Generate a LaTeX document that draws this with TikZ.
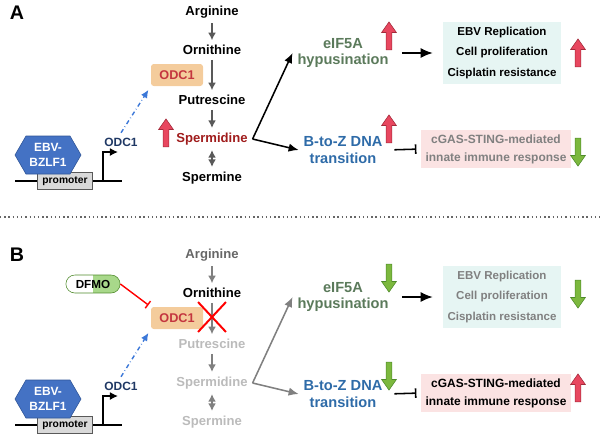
\documentclass[tikz,border=0pt]{standalone}
\usepackage{fontspec}
\setmainfont{Liberation Sans}
\usetikzlibrary{arrows.meta,shapes.geometric,shapes.arrows,shapes.misc,shapes.symbols,positioning}

\definecolor{hexblue}{HTML}{4472C4}
\definecolor{hexedge}{HTML}{2F5597}
\definecolor{navy}{HTML}{1F3864}
\definecolor{odcfill}{HTML}{F4CC9C}
\definecolor{odctext}{HTML}{C4363F}
\definecolor{spdred}{HTML}{A01C1C}
\definecolor{eifgreen}{HTML}{5B7A5B}
\definecolor{dnablue}{HTML}{2E6BA8}
\definecolor{upred}{HTML}{E8475F}
\definecolor{upedge}{HTML}{A32A3A}
\definecolor{dngreen}{HTML}{7CB83E}
\definecolor{dnedge}{HTML}{4E8A2A}
\definecolor{cyanbox}{HTML}{E6F5F3}
\definecolor{pinkbox}{HTML}{FBE3E3}
\definecolor{fade}{HTML}{BBBBBB}
\definecolor{pillgreen}{HTML}{A8D88A}
\definecolor{exprblue}{HTML}{3C78D8}

\begin{document}
\begin{tikzpicture}[x=0.025cm, y=-0.025cm, >={Latex[length=2.5mm, width=2.1mm]},
	every node/.style={font=\bfseries\fontsize{9.3}{11}\selectfont},
	panellabel/.style={font=\bfseries\fontsize{14}{16}\selectfont},
	enzyme/.style={fill=odcfill, rounded corners=2pt, text=odctext, minimum width=52*0.025cm, minimum height=22*0.025cm, font=\bfseries\fontsize{9}{11}\selectfont},
	outcome/.style={align=center, font=\bfseries\fontsize{10.4}{12}\selectfont},
	effbox/.style={fill=cyanbox, align=center, minimum width=106*0.025cm, minimum height=58*0.025cm, font=\bfseries\fontsize{8.2}{14.8}\selectfont},
	immbox/.style={fill=pinkbox, align=center, minimum width=142*0.025cm, minimum height=38*0.025cm, font=\bfseries\fontsize{8.5}{12.8}\selectfont},
	promoterbox/.style={draw=gray!70!black, fill=gray!30, minimum width=55*0.025cm, minimum height=17*0.025cm, inner sep=0pt, font=\bfseries\fontsize{7.3}{9}\selectfont},
	tf/.style={signal, signal to=east and west, signal pointer angle=120, fill=hexblue, draw=hexedge, text=white, align=center, minimum width=66*0.025cm, minimum height=38*0.025cm, inner sep=1pt, font=\bfseries\fontsize{8.5}{11}\selectfont},
	genename/.style={text=navy, font=\bfseries\fontsize{8.5}{10}\selectfont},
	uparrow/.style={single arrow, shape border rotate=90, fill=upred, draw=upedge, inner sep=2.6*0.025cm, single arrow head extend=4.5*0.025cm, single arrow tip angle=70, minimum height=28*0.025cm},
	downarrow/.style={single arrow, shape border rotate=270, fill=dngreen, draw=dnedge, inner sep=2.6*0.025cm, single arrow head extend=4.5*0.025cm, single arrow tip angle=70, minimum height=28*0.025cm},
	conv/.style={-{Latex[length=1.9mm, width=2mm]}, line width=1.4pt, gray!70!black},
	convboth/.style={{Latex[length=1.9mm, width=2mm]}-{Latex[length=1.9mm, width=2mm]}, line width=1.4pt, gray!70!black},
	branch/.style={->, line width=1.1pt},
	blk/.style={-{Latex[length=3mm, width=2.5mm]}, line width=1.1pt},
	inh/.style={-{Bar[width=2.4mm]}, line width=1.1pt},
	expr/.style={-{Latex[length=2mm, width=1.8mm]}, dash dot, exprblue, line width=1pt},
	dna/.style={line width=1.3pt},
	sep/.style={dotted, gray!80!black, line width=1pt},
	pill/.style={rounded rectangle, draw=dnedge, fill=white, minimum width=57*0.025cm, minimum height=18*0.025cm, inner sep=1pt, font=\bfseries\fontsize{8.3}{10}\selectfont,
		path picture={\fill[pillgreen] (path picture bounding box.south) rectangle (path picture bounding box.north east);}},
	crossmark/.style={cross out, draw=red, line width=1.4pt, minimum width=26*0.025cm, minimum height=28*0.025cm}]
	\useasboundingbox (0,0) rectangle (600,437);

	% panel A
	\node[panellabel] (labA) at (17,13) {A};
	\node (argA) at (212,12) {Arginine};
	\node (ornA) at (212,50) {Ornithine};
	\node[enzyme] (odcA) at (177,75) {ODC1};
	\node (putA) at (212,100) {Putrescine};
	\node[text=spdred] (spdA) at (212,139) {Spermidine};
	\node (spmA) at (212,178) {Spermine};
	\draw[conv] (argA) -- (ornA);
	\draw[conv] (ornA) -- (putA);
	\draw[conv] (putA) -- (spdA);
	\draw[convboth] (spdA) -- (spmA);
	\node[uparrow] (upSpdA) at (166,135) {};

	\coordinate (dnaLA) at (15,181);
	\coordinate (dnaRA) at (122,181);
	\draw[dna] (dnaLA) -- (dnaRA);
	\node[promoterbox] (promA) at (65,181) {promoter};
	\node[tf] (tfA) at (48,155) {EBV-\\BZLF1};
	\coordinate (tssA) at (103,181);
	\coordinate (tssEndA) at (118,152);
	\draw[line width=1.1pt, -{Latex[length=2mm, width=2mm]}] (tssA) |- (tssEndA);
	\node[genename] (geneA) at (121,142) {ODC1};
	\draw[expr, shorten >=3pt] (geneA.north) -- (odcA.south west);

	\node[outcome, text=eifgreen] (eifA) at (343,53) {eIF5A\\hypusination};
	\node[outcome, text=dnablue] (btzA) at (343,150) {B-to-Z DNA\\transition};
	\draw[branch] (spdA.east) -- (eifA.west);
	\draw[branch] (spdA.east) -- (btzA.west);
	\node[uparrow] (upEifA) at (389,38) {};
	\node[uparrow] (upBtzA) at (389,131) {};
	\node[effbox] (effA) at (502,53) {EBV Replication\\Cell proliferation\\Cisplatin resistance};
	\node[immbox, text=gray] (immA) at (496,149) {cGAS-STING-mediated\\innate immune response};
	\node[uparrow] (upEffA) at (578,55) {};
	\node[downarrow] (dnImmA) at (578,150) {};
	\draw[blk, shorten <=6pt, shorten >=7pt] (eifA.east) -- (effA.west);
	\draw[inh, shorten <=5pt, shorten >=3pt] (btzA.east) -- (immA.west);

	% separator
	\draw[sep] (0,217) -- (600,217);

	% panel B
	\node[panellabel] (labB) at (17,255) {B};
	\node[text=gray!80!black] (argB) at (212,255) {Arginine};
	\node (ornB) at (212,293) {Ornithine};
	\node[enzyme] (odcB) at (177,318) {ODC1};
	\node[text=fade] (putB) at (212,344) {Putrescine};
	\node[text=fade] (spdB) at (212,383) {Spermidine};
	\node[text=fade] (spmB) at (212,422) {Spermine};
	\draw[conv, gray] (argB) -- (ornB);
	\draw[conv, gray] (ornB) -- (putB);
	\draw[conv, gray] (putB) -- (spdB);
	\draw[convboth, gray] (spdB) -- (spmB);
	\node[crossmark] (xB) at (212,317) {};
	\node[pill] (dfmo) at (93,284) {DFMO};
	\draw[inh, red, -{Bar[width=2.2mm]}, line width=1pt, shorten >=2pt] (dfmo.east) -- (odcB.north west);

	\coordinate (dnaLB) at (15,425);
	\coordinate (dnaRB) at (122,425);
	\draw[dna] (dnaLB) -- (dnaRB);
	\node[promoterbox] (promB) at (65,425) {promoter};
	\node[tf] (tfB) at (48,399) {EBV-\\BZLF1};
	\coordinate (tssB) at (103,425);
	\coordinate (tssEndB) at (118,396);
	\draw[line width=1.1pt, -{Latex[length=2mm, width=2mm]}] (tssB) |- (tssEndB);
	\node[genename] (geneB) at (121,386) {ODC1};
	\draw[expr, shorten >=3pt] (geneB.north) -- (odcB.south west);

	\node[outcome, text=eifgreen] (eifB) at (343,297) {eIF5A\\hypusination};
	\node[outcome, text=dnablue] (btzB) at (343,394) {B-to-Z DNA\\transition};
	\draw[branch, gray] (spdB.east) -- (eifB.west);
	\draw[branch, gray] (spdB.east) -- (btzB.west);
	\node[downarrow] (dnEifB) at (389,276) {};
	\node[downarrow] (dnBtzB) at (389,374) {};
	\node[effbox, text=gray] (effB) at (502,297) {EBV Replication\\Cell proliferation\\Cisplatin resistance};
	\node[immbox] (immB) at (496,393) {cGAS-STING-mediated\\innate immune response};
	\node[downarrow] (dnEffB) at (578,292) {};
	\node[uparrow] (upImmB) at (578,390) {};
	\draw[blk, shorten <=6pt, shorten >=7pt] (eifB.east) -- (effB.west);
	\draw[inh, shorten <=5pt, shorten >=3pt] (btzB.east) -- (immB.west);
\end{tikzpicture}
\end{document}
